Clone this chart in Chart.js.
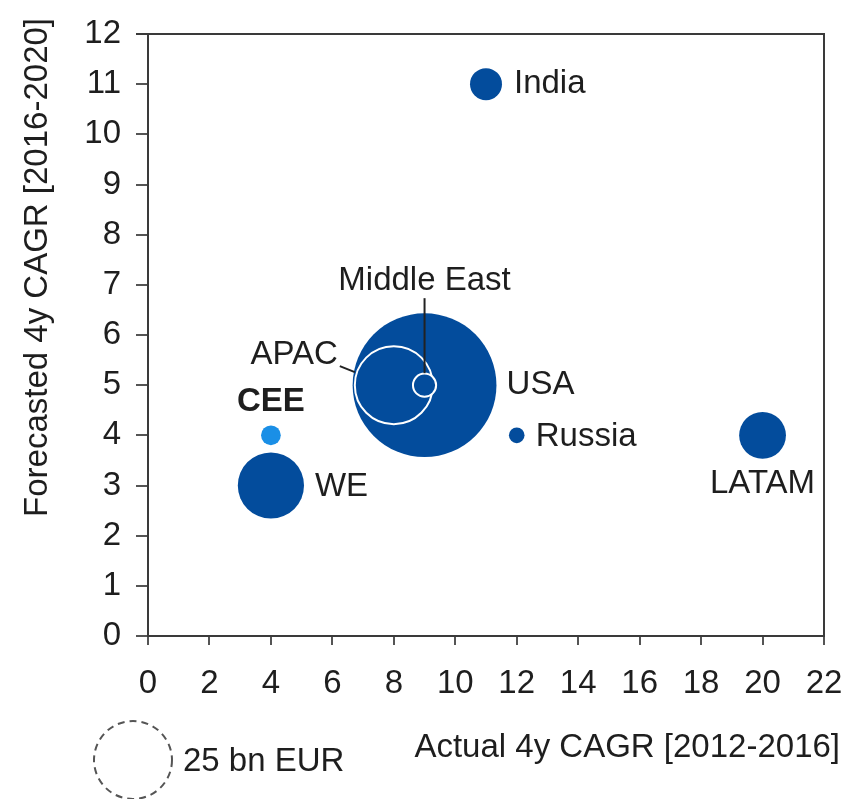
<!DOCTYPE html>
<html>
<head>
<meta charset="utf-8">
<script src="https://cdn.jsdelivr.net/npm/chart.js@4.4.0/dist/chart.umd.min.js"></script>
<style>
  html, body { margin: 0; padding: 0; background: #fff; }
  #wrap { width: 845px; height: 799px; }
</style>
</head>
<body>
<div id="wrap"><canvas id="cagrChart"></canvas></div>
<script>
// Data
const regions = ["USA", "APAC", "Middle East", "India", "WE", "CEE", "Russia", "LATAM"];
const actualCagr = [9, 8, 9, 11, 4, 4, 12, 20];      // 2012-2016, %
const forecastCagr = [5, 5, 5, 11, 3, 4, 4, 4];      // 2016-2020, %
const marketSize = [85, 25, 2.2, 4.2, 18, 1.6, 1, 9]; // bn EUR
const xTicks = [0, 2, 4, 6, 8, 10, 12, 14, 16, 18, 20, 22];
const yTicks = [0, 1, 2, 3, 4, 5, 6, 7, 8, 9, 10, 11, 12];
const legendSize = 25;

const darkBlue = "#034c9c";
const lightBlue = "#1a8fe6";
const textColor = "#1e1e1e";
const axisColor = "#3a3a3a";
const fontFamily = "'Liberation Sans', Arial, sans-serif";
const fontSize = 33;

// bubble radius in px, area proportional to size
const radiusFor = v => 39 * Math.sqrt(v / legendSize);

// where each label sits relative to its bubble
const labelLayout = {
    "USA": { dx: 82, dy: 0, align: "left" },
    "APAC": { dx: -56, dy: -30, align: "right", line: [-54, -19, -39, -13] },
    "Middle East": { dx: 0, dy: -104, align: "center", line: [0, -87, 0, -12] },
    "India": { dx: 28, dy: 0, align: "left" },
    "WE": { dx: 44, dy: 1, align: "left" },
    "CEE": { dx: 0, dy: -33, align: "center", bold: true },
    "Russia": { dx: 19, dy: 2, align: "left" },
    "LATAM": { dx: 0, dy: 49, align: "center" }
};

var points = [];
for (let i = 0; i < regions.length; i++) {
    points.push({ x: actualCagr[i], y: forecastCagr[i], r: radiusFor(marketSize[i]) });
}

const extras = {
    id: "extras",
    afterDatasetsDraw(chart) {
        const ctx = chart.ctx;
        const area = chart.chartArea;
        const meta = chart.getDatasetMeta(0);

        // frame top + right
        ctx.save();
        ctx.strokeStyle = axisColor;
        ctx.lineWidth = 2;
        ctx.beginPath();
        ctx.moveTo(area.left - 12, area.top);
        ctx.lineTo(area.right, area.top);
        ctx.lineTo(area.right, area.bottom);
        ctx.stroke();
        ctx.restore();

        // labels
        ctx.save();
        ctx.fillStyle = textColor;
        ctx.textBaseline = "middle";
        meta.data.forEach((el, i) => {
            const lay = labelLayout[regions[i]];
            ctx.font = (lay.bold ? "bold " : "") + fontSize + "px " + fontFamily;
            ctx.textAlign = lay.align;
            ctx.fillText(regions[i], el.x + lay.dx, el.y + lay.dy);
            if (lay.line) {
                ctx.strokeStyle = "#222";
                ctx.lineWidth = 2;
                ctx.beginPath();
                ctx.moveTo(el.x + lay.line[0], el.y + lay.line[1]);
                ctx.lineTo(el.x + lay.line[2], el.y + lay.line[3]);
                ctx.stroke();
            }
        });
        ctx.restore();
    },
    afterDraw(chart) {
        const ctx = chart.ctx;
        ctx.save();
        ctx.font = fontSize + "px " + fontFamily;
        ctx.fillStyle = textColor;
        ctx.textBaseline = "middle";

        // x title
        ctx.textAlign = "right";
        ctx.fillText("Actual 4y CAGR [2012-2016]", 840, 748);

        // y title
        ctx.save();
        ctx.translate(38, 18);
        ctx.rotate(-Math.PI / 2);
        ctx.textAlign = "right";
        ctx.fillText("Forecasted 4y CAGR [2016-2020]", 0, 0);
        ctx.restore();

        // size legend
        ctx.strokeStyle = "#555";
        ctx.lineWidth = 2;
        ctx.setLineDash([7, 5]);
        ctx.beginPath();
        ctx.arc(133, 760, radiusFor(legendSize), 0, Math.PI * 2);
        ctx.stroke();
        ctx.setLineDash([]);
        ctx.textAlign = "left";
        ctx.fillText("25 bn EUR", 183, 762);
        ctx.restore();
    }
};

const ctx = document.getElementById("cagrChart");
new Chart(ctx, {
    type: "bubble",
    data: {
        datasets: [{
            data: points,
            backgroundColor: regions.map(r => r === "CEE" ? lightBlue : darkBlue),
            borderColor: regions.map(r => (r === "APAC" || r === "Middle East") ? "#ffffff" : darkBlue),
            borderWidth: regions.map(r => (r === "APAC" || r === "Middle East") ? 2 : 0),
            hoverRadius: 0
        }]
    },
    options: {
        responsive: true,
        maintainAspectRatio: false,
        animation: false,
        layout: { autoPadding: false, padding: { top: 34, right: 21, left: 0, bottom: 0 } },
        plugins: {
            legend: { display: false },
            tooltip: { enabled: false }
        },
        scales: {
            x: {
                type: "linear",
                min: 0,
                max: 22,
                afterBuildTicks: axis => { axis.ticks = xTicks.map(v => ({ value: v })); },
                afterFit: axis => {
                    axis.height = 163;
                    axis.paddingLeft = 0;
                    axis.paddingRight = 0;
                },
                grid: { drawOnChartArea: false, drawTicks: true, tickLength: 9, color: "#555", lineWidth: 2 },
                border: { display: true, color: axisColor, width: 2 },
                ticks: {
                    padding: 19,
                    color: textColor,
                    maxRotation: 0,
                    font: { family: fontFamily, size: fontSize }
                }
            },
            y: {
                type: "linear",
                min: 0,
                max: 12,
                afterBuildTicks: axis => { axis.ticks = yTicks.map(v => ({ value: v })); },
                afterFit: axis => {
                    axis.width = 148;
                    axis.paddingTop = 0;
                    axis.paddingBottom = 0;
                },
                grid: { drawOnChartArea: false, drawTicks: true, tickLength: 12, color: "#555", lineWidth: 2 },
                border: { display: true, color: axisColor, width: 2 },
                ticks: {
                    padding: 15,
                    color: textColor,
                    font: { family: fontFamily, size: fontSize }
                }
            }
        }
    },
    plugins: [extras]
});
</script>
</body>
</html>
